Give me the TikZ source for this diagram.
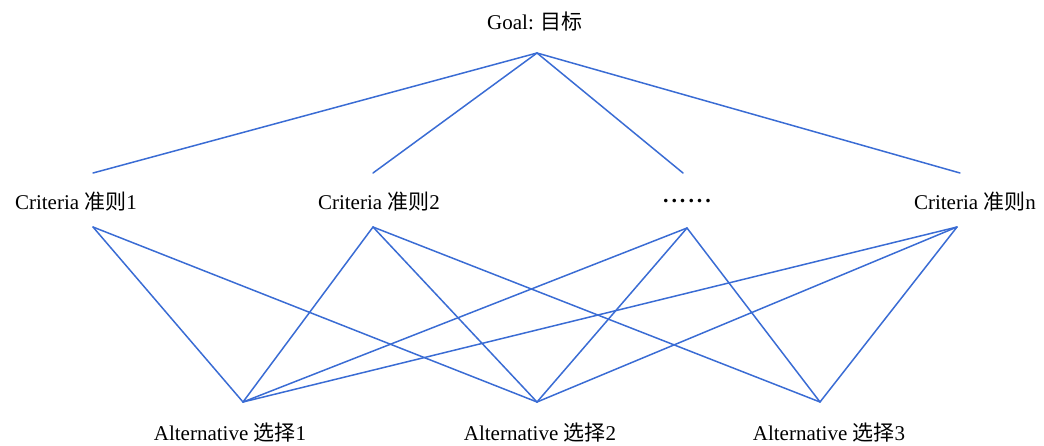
\documentclass[tikz,border=0pt]{standalone}
\usepackage{fontspec}
\setmainfont{Liberation Serif}
\newfontfamily\cjk{Noto Sans CJK SC}
\definecolor{edgeblue}{RGB}{58,108,212}
\begin{document}
\begin{tikzpicture}[x=1pt,y=-1pt,
  lbl/.style={inner sep=0pt,anchor=center,font=\fontsize{21}{24}\selectfont},
  edge/.style={draw=edgeblue,line width=1.5pt,line cap=round,line join=round}]
\useasboundingbox (0,0) rectangle (1044,445);
% labels
\node[lbl] (goal) at (535,22) {Goal: {\cjk 目标}};
\node[lbl] (c1) at (76,202) {Criteria {\cjk 准则}1};
\node[lbl] (c2) at (379,202) {Criteria {\cjk 准则}2};
\node[lbl,font=\fontsize{22}{24}\selectfont\bfseries] (cd) at (687,201) {.\kern3pt.\kern3pt.\kern3pt.\kern3pt.\kern3pt.};
\node[lbl] (cn) at (975,202) {Criteria {\cjk 准则}n};
\node[lbl] (a1) at (230,433) {Alternative {\cjk 选择}1};
\node[lbl] (a2) at (540,433) {Alternative {\cjk 选择}2};
\node[lbl] (a3) at (829,433) {Alternative {\cjk 选择}3};
% connector end points
\coordinate (g) at (537,53);
\coordinate (c1t) at (93,173);
\coordinate (c2t) at (373,173);
\coordinate (cdt) at (683,173);
\coordinate (cnt) at (960,173);
\coordinate (c1b) at (93,227);
\coordinate (c2b) at (373,227);
\coordinate (cdb) at (687,228);
\coordinate (cnb) at (957,227);
\coordinate (a1t) at (243,402);
\coordinate (a2t) at (537,402);
\coordinate (a3t) at (820,402);
% goal to criteria
\draw[edge] (g) -- (c1t);
\draw[edge] (g) -- (c2t);
\draw[edge] (g) -- (cdt);
\draw[edge] (g) -- (cnt);
% criteria to alternatives
\draw[edge] (c1b) -- (a1t);
\draw[edge] (c1b) -- (a2t);
\draw[edge] (c2b) -- (a1t);
\draw[edge] (c2b) -- (a2t);
\draw[edge] (c2b) -- (a3t);
\draw[edge] (cdb) -- (a1t);
\draw[edge] (cdb) -- (a2t);
\draw[edge] (cdb) -- (a3t);
\draw[edge] (cnb) -- (a1t);
\draw[edge] (cnb) -- (a2t);
\draw[edge] (cnb) -- (a3t);
\end{tikzpicture}
\end{document}
